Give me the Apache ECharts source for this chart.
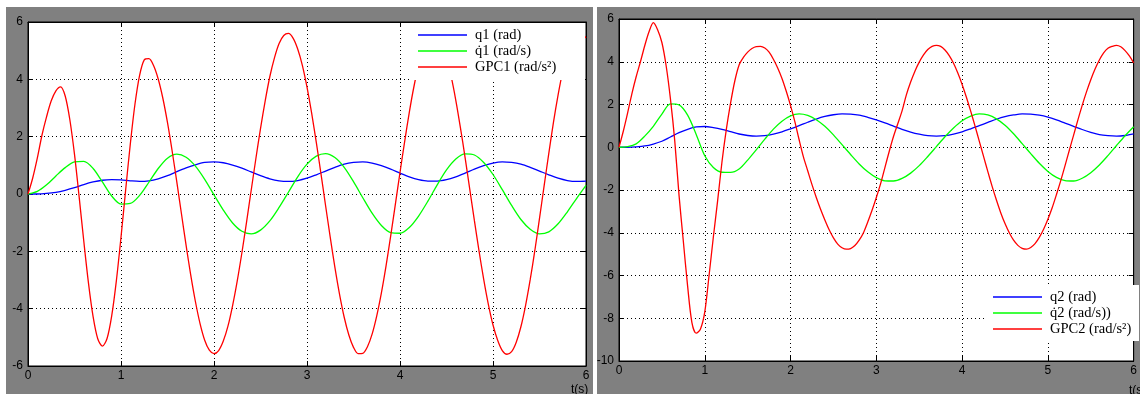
<!DOCTYPE html>
<html>
<head>
<meta charset="utf-8">
<title>q1 / q2 responses</title>
<script src="https://cdn.jsdelivr.net/npm/echarts@6/dist/echarts.min.js"></script>
<style>
  html, body { margin: 0; padding: 0; background: #ffffff; }
  #wrap { position: relative; width: 1140px; height: 394px; overflow: hidden; }
  .panel { position: absolute; background: #808080; }
  #chart { position: absolute; left: 0; top: 0; width: 1140px; height: 394px; }
</style>
</head>
<body>
<div id="wrap">
  <div class="panel" style="left:6px; top:7px; width:587px; height:387px;"></div>
  <div class="panel" style="left:597px; top:7px; width:543px; height:387px;"></div>
  <div id="chart"></div>
</div>
<script>
// Value ranges of the two panels
const leftValueRange = [-6, 6];
const rightValueRange = [-10, 6];
const timeRange = [0, 6];

// Sample times (s)
const tFine = [0,0.05,0.1,0.15,0.2,0.25,0.3,0.35,0.4,0.45,0.5,0.55,0.6,0.65,0.7,0.75,0.8,0.85,0.9,0.95,
  1,1.05,1.1,1.15,1.2,1.25,1.3,1.35,1.4,1.45,1.5,1.55,1.6,1.65,1.7,1.75,1.8,1.85,1.9,1.95,
  2,2.05,2.1,2.15,2.2,2.25,2.3,2.35,2.4,2.45,2.5,2.55,2.6,2.65,2.7,2.75,2.8,2.85,2.9,2.95,
  3,3.05,3.1,3.15,3.2,3.25,3.3,3.35,3.4,3.45,3.5,3.55,3.6,3.65,3.7,3.75,3.8,3.85,3.9,3.95,
  4,4.05,4.1,4.15,4.2,4.25,4.3,4.35,4.4,4.45,4.5,4.55,4.6,4.65,4.7,4.75,4.8,4.85,4.9,4.95,
  5,5.05,5.1,5.15,5.2,5.25,5.3,5.35,5.4,5.45,5.5,5.55,5.6,5.65,5.7,5.75,5.8,5.85,5.9,5.95,6];
const tCoarse = [0,0.1,0.2,0.3,0.4,0.5,0.6,0.7,0.8,0.9,1,1.1,1.2,1.3,1.4,1.5,1.6,1.7,1.8,1.9,
  2,2.1,2.2,2.3,2.4,2.5,2.6,2.7,2.8,2.9,3,3.1,3.2,3.3,3.4,3.5,3.6,3.7,3.8,3.9,
  4,4.1,4.2,4.3,4.4,4.5,4.6,4.7,4.8,4.9,5,5.1,5.2,5.3,5.4,5.5,5.6,5.7,5.8,5.9,6];

// Joint 1 — position (rad), velocity (rad/s), GPC acceleration (rad/s^2)
const q1 = [0,0,0.02,0.06,0.13,0.22,0.33,0.42,0.48,0.50,0.49,0.46,0.44,0.46,0.53,0.64,0.78,0.91,1.02,1.10,
  1.12,1.09,1.01,0.90,0.77,0.64,0.53,0.46,0.44,0.47,0.55,0.67,0.80,0.93,1.04,1.10,1.12,1.08,0.99,0.87,
  0.73,0.60,0.50,0.45,0.45,0.50,0.60,0.73,0.87,0.99,1.08,1.12,1.10,1.04,0.93,0.80,0.67,0.55,0.47,0.44,0.45];
const dq1 = [0,0.09,0.32,0.63,0.92,1.12,1.14,0.89,0.42,-0.07,-0.35,-0.33,-0.05,0.41,0.89,1.25,1.39,1.28,0.97,0.51,
  -0.03,-0.56,-1.01,-1.30,-1.39,-1.26,-0.94,-0.47,0.06,0.60,1.04,1.32,1.41,1.27,0.93,0.43,-0.13,-0.67,-1.10,-1.35,
  -1.37,-1.17,-0.77,-0.25,0.32,0.84,1.22,1.40,1.36,1.10,0.68,0.15,-0.40,-0.89,-1.23,-1.39,-1.32,-1.04,-0.62,-0.15,0.30];
const gpc1 = [0,0.55,1.25,2.05,2.7,3.25,3.6,3.74,3.42,2.59,1.38,-0.10,-1.65,-3.10,-4.28,-5.05,-5.31,-5.04,-4.25,-3.03,
  -1.51,0.14,1.74,3.13,4.14,4.68,4.72,4.48,4.01,3.34,2.49,1.50,0.42,-0.69,-1.79,-2.83,-3.75,-4.52,-5.10,-5.45,
  -5.57,-5.46,-5.13,-4.61,-3.89,-3.03,-2.05,-0.98,0.13,1.23,2.28,3.24,4.09,4.75,5.25,5.53,5.60,5.44,5.06,4.49,
  3.73,2.82,1.80,0.71,-0.41,-1.51,-2.56,-3.50,-4.30,-4.92,-5.35,-5.57,-5.56,-5.33,-4.89,-4.25,-3.45,-2.51,-1.46,-0.36,
  0.75,1.83,2.85,3.75,4.50,5.08,5.43,5.60,5.53,5.25,4.77,4.10,3.27,2.31,1.27,0.17,-0.93,-1.99,-2.98,-3.85,
  -4.57,-5.10,-5.46,-5.59,-5.50,-5.17,-4.63,-3.89,-2.99,-1.97,-0.85,0.29,1.42,2.50,3.46,4.29,4.94,5.37,5.58,5.58,5.45];

// Joint 2
const q2 = [0,0,0.02,0.06,0.15,0.28,0.48,0.68,0.84,0.95,0.97,0.92,0.84,0.73,0.62,0.55,0.52,0.54,0.61,0.72,
  0.86,1.01,1.17,1.32,1.44,1.52,1.56,1.55,1.50,1.40,1.28,1.14,0.99,0.84,0.71,0.61,0.54,0.52,0.54,0.61,
  0.72,0.86,1.01,1.16,1.31,1.43,1.51,1.56,1.55,1.50,1.41,1.28,1.13,0.98,0.83,0.70,0.59,0.54,0.52,0.55,0.63];
const dq2 = [0,0.03,0.16,0.52,0.98,1.55,2.03,1.98,1.5,0.6,-0.4,-0.95,-1.17,-1.18,-1.02,-0.6,-0.12,0.38,0.85,1.22,
  1.47,1.56,1.49,1.29,0.98,0.58,0.12,-0.34,-0.78,-1.15,-1.42,-1.57,-1.58,-1.46,-1.21,-0.86,-0.43,0.03,0.49,0.90,
  1.24,1.46,1.56,1.51,1.33,1.03,0.63,0.17,-0.30,-0.75,-1.13,-1.41,-1.56,-1.58,-1.45,-1.19,-0.83,-0.39,0.08,0.54,0.96];
const gpc2 = [0,0.75,1.6,2.5,3.3,4.0,4.75,5.4,5.83,5.5,4.9,3.8,2.25,0.3,-2.25,-4.4,-6.5,-8.2,-8.7,-8.5,
  -7.7,-6.0,-4.2,-2.5,-0.7,0.8,2.05,3.1,3.85,4.2,4.45,4.62,4.71,4.72,4.64,4.45,4.12,3.71,3.22,2.62,
  1.95,1.2,0.35,-0.45,-1.1,-1.75,-2.35,-2.9,-3.4,-3.86,-4.24,-4.53,-4.70,-4.77,-4.74,-4.6,-4.35,-4.0,-3.5,-2.95,
  -2.35,-1.7,-0.95,-0.2,0.5,1.1,1.7,2.45,3.05,3.56,3.98,4.32,4.57,4.72,4.77,4.72,4.55,4.29,3.93,3.47,
  2.94,2.34,1.69,1.00,0.29,-0.43,-1.14,-1.83,-2.47,-3.06,-3.57,-4.00,-4.35,-4.59,-4.73,-4.77,-4.69,-4.51,-4.22,-3.84,
  -3.37,-2.83,-2.21,-1.56,-0.86,-0.14,0.57,1.28,1.96,2.59,3.16,3.66,4.08,4.41,4.63,4.72,4.77,4.70,4.52,4.27,3.95];

const leftNames = ['q1 (rad)', 'q\u03071 (rad/s)', 'GPC1 (rad/s\u00B2)'];
const rightNames = ['q2 (rad)', 'q\u03072 (rad/s))', 'GPC2 (rad/s\u00B2)'];
const lineColors = ['#0000ff', '#00ff00', '#ff0000'];

function pairs(times, values) {
  return values.map(function (v, i) { return [times[i], v]; });
}

const chart = echarts.init(document.getElementById('chart'), null, { renderer: 'canvas' });

const labelFont = { color: '#000', fontFamily: 'Liberation Sans, Arial, sans-serif', fontSize: 12 };
const dotted = { color: '#000', width: 1, type: [1, 3] };
const blackLine = { show: true, onZero: false, lineStyle: { color: '#000', width: 1 } };
const innerTick = { show: true, inside: true, length: 5, lineStyle: { color: '#000' } };

function xAxisPair(grid) {
  return [
    { type: 'value', gridIndex: grid, position: 'bottom', min: timeRange[0], max: timeRange[1], interval: 1,
      axisLine: blackLine, axisTick: innerTick,
      axisLabel: Object.assign({ margin: 4 }, labelFont),
      splitLine: { show: true, lineStyle: dotted } },
    { type: 'value', gridIndex: grid, position: 'top', min: timeRange[0], max: timeRange[1], interval: 1,
      axisLine: blackLine, axisTick: innerTick,
      axisLabel: { show: false }, splitLine: { show: false } }
  ];
}
function yAxisPair(grid, range) {
  return [
    { type: 'value', gridIndex: grid, position: 'left', min: range[0], max: range[1], interval: 2,
      axisLine: blackLine, axisTick: innerTick,
      axisLabel: Object.assign({ margin: 5 }, labelFont),
      splitLine: { show: true, lineStyle: dotted } },
    { type: 'value', gridIndex: grid, position: 'right', min: range[0], max: range[1], interval: 2,
      axisLine: blackLine, axisTick: innerTick,
      axisLabel: { show: false }, splitLine: { show: false } }
  ];
}
function lineSeries(name, data, colorIdx, grid) {
  return {
    name: name, type: 'line', data: data, xAxisIndex: grid * 2, yAxisIndex: grid * 2,
    showSymbol: false, smooth: 0.3, clip: true, animation: false,
    lineStyle: { color: lineColors[colorIdx], width: 1.3 },
    itemStyle: { color: lineColors[colorIdx] }
  };
}
function legendBlock(names, left, top) {
  return {
    data: names, orient: 'vertical', left: left, top: top, z: 30,
    icon: 'rect', itemWidth: 49, itemHeight: 1.5, itemGap: 0, padding: 0,
    selectedMode: false,
    textStyle: { color: '#000', fontFamily: 'Liberation Serif, Times New Roman, serif', fontSize: 14.5, lineHeight: 16, padding: [0, 0, 0, 3] }
  };
}

chart.setOption({
  animation: false,
  backgroundColor: 'transparent',
  grid: [
    { left: 28, top: 22, width: 558, height: 344, show: true, backgroundColor: '#fff', borderColor: '#000', borderWidth: 1 },
    { left: 619, top: 19, width: 520, height: 342, show: true, backgroundColor: '#fff', borderColor: '#000', borderWidth: 1 }
  ],
  xAxis: xAxisPair(0).concat(xAxisPair(1)),
  yAxis: yAxisPair(0, leftValueRange).concat(yAxisPair(1, rightValueRange)),
  legend: [legendBlock(leftNames, 418, 27), legendBlock(rightNames, 993, 289)],
  graphic: [
    { type: 'rect', z: 20, shape: { x: 410, y: 23, width: 175, height: 57 }, style: { fill: '#fff' }, silent: true },
    { type: 'rect', z: 20, shape: { x: 985, y: 285, width: 154, height: 56 }, style: { fill: '#fff' }, silent: true },
    { type: 'text', z: 20, left: 571, top: 384, style: { text: 't(s)', fill: '#000', font: '12px Liberation Sans, Arial, sans-serif' } },
    { type: 'text', z: 20, left: 1129, top: 385, style: { text: 't(s)', fill: '#000', font: '12px Liberation Sans, Arial, sans-serif' } }
  ],
  series: [
    lineSeries(leftNames[0], pairs(tCoarse, q1), 0, 0),
    lineSeries(leftNames[1], pairs(tCoarse, dq1), 1, 0),
    lineSeries(leftNames[2], pairs(tFine, gpc1), 2, 0),
    lineSeries(rightNames[0], pairs(tCoarse, q2), 0, 1),
    lineSeries(rightNames[1], pairs(tCoarse, dq2), 1, 1),
    lineSeries(rightNames[2], pairs(tFine, gpc2), 2, 1)
  ]
});
</script>
</body>
</html>
